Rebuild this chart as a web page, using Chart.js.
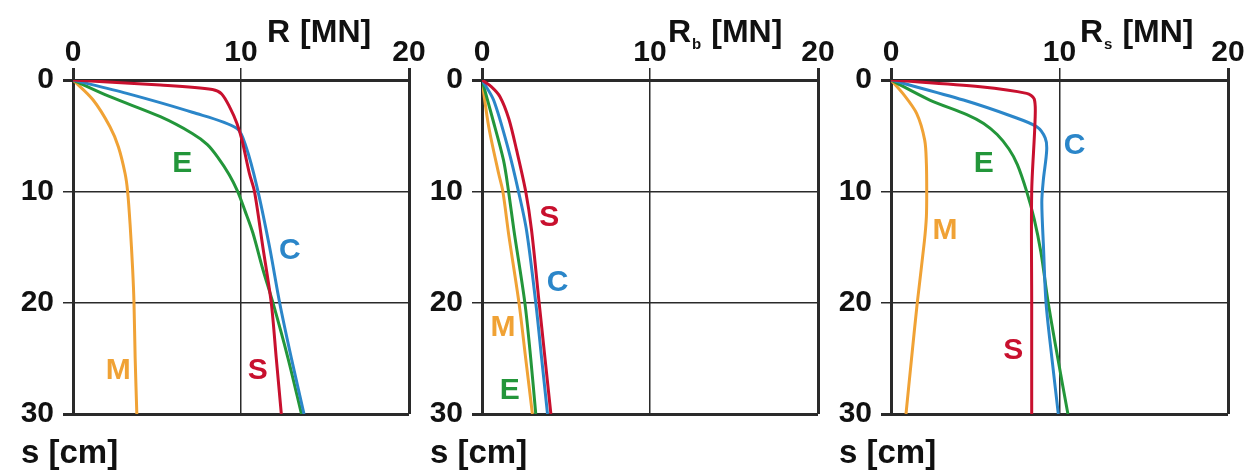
<!DOCTYPE html>
<html>
<head>
<meta charset="utf-8">
<script src="https://cdn.jsdelivr.net/npm/chart.js@4.4.0/dist/chart.umd.min.js"></script>
<style>
  body { margin: 0; background: #fff; }
  #wrap { position: relative; width: 1249px; height: 476px; overflow: hidden; }
  #wrap canvas { position: absolute; top: 0; }
</style>
</head>
<body>
<div id="wrap">
  <canvas id="c1" width="440" height="476" style="left:0"></canvas>
  <canvas id="c2" width="440" height="476" style="left:420px"></canvas>
  <canvas id="c3" width="419" height="476" style="left:830px"></canvas>
</div>
<script>
// Kurven: [R, s] Paare, R in MN, s in cm
const totalS = [[0,0],[5.2,0.45],[8.3,0.85],[8.85,1.25],[9.35,2.5],[9.76,3.9],[10.06,5.4],[10.5,8.4],[10.8,10],[11.3,15],[11.8,20],[12.1,25],[12.4,30]];
const totalC = [[0,0],[3.2,1.2],[7.1,2.9],[9.76,4.35],[10.3,6],[10.95,9.6],[11.7,15],[12.3,20],[13,25],[13.75,30]];
const totalE = [[0,0],[2.2,1.5],[5.2,3.3],[7.1,4.8],[8.0,5.8],[8.6,6.9],[9.3,8.5],[9.8,10],[10.25,11.8],[10.7,13.7],[11.3,17],[11.9,20],[12.8,25],[13.6,30]];
const totalM = [[0,0],[1.2,1.8],[2.2,4.2],[2.7,6],[3.1,8.4],[3.25,10],[3.4,13],[3.55,17],[3.63,20],[3.7,25],[3.8,30]];

const baseS = [[0,0],[0.55,0.6],[1.07,1.5],[1.6,3.5],[2.06,6.3],[2.6,10],[2.95,13.5],[3.4,20],[3.75,25],[4.1,30]];
const baseC = [[0,0],[0.69,1.8],[1.58,6.3],[2.17,10],[2.65,13.5],[3.2,20],[3.55,25],[3.9,30]];
const baseE = [[0,0],[0.6,3.3],[1.28,7.2],[1.58,10],[1.9,13.5],[2.55,20],[2.9,25],[3.2,30]];
const baseM = [[0,0],[0.4,4.2],[0.99,8.4],[1.24,10],[1.6,14],[2.2,20],[2.6,25],[3.0,30]];

const shaftS = [[0,0],[5.3,0.6],[8.05,1.2],[8.5,1.7],[8.55,3.6],[8.35,10],[8.35,20],[8.35,30]];
const shaftC = [[0,0],[4.3,1.8],[7.25,3.3],[8.65,4.2],[9.15,5.2],[9.24,6.3],[9.04,9],[8.95,11],[9.05,15],[9.2,20],[9.55,25],[9.93,30]];
const shaftE = [[0,0],[2.3,1.8],[4.5,3.1],[5.5,3.9],[6.3,4.9],[7.0,6.2],[7.5,7.6],[8.05,10],[8.5,12.5],[8.9,15.5],[9.33,20],[9.9,25],[10.5,30]];
const shaftM = [[0,0],[0.7,1.2],[1.52,3],[2.0,5.4],[2.1,7.5],[2.12,10],[2.1,12.3],[1.98,14.5],[1.56,20],[1.22,25],[0.89,30]];

// Achsen
const rTicks = [0, 10, 20];
const sTicks = [0, 10, 20, 30];
const forceUnit = '[MN]';
const depthTitle = 's [cm]';

const COLORS = { S: '#c8102e', C: '#2b86c9', E: '#23963a', M: '#f0a235' };
const FONT = '"Liberation Sans", Arial, sans-serif';

const annotate = {
  id: 'annotate',
  afterDraw(chart, args, opts) {
    const { ctx, chartArea: a, scales } = chart;
    ctx.save();
    ctx.font = 'bold 30px ' + FONT;
    ctx.textAlign = 'center';
    ctx.textBaseline = 'alphabetic';
    opts.letters.forEach(([t, x, y]) => {
      ctx.fillStyle = COLORS[t];
      ctx.fillText(t, scales.x.getPixelForValue(x), scales.y.getPixelForValue(y) + 11);
    });

    // R / R_b / R_s [MN]
    ctx.fillStyle = '#111';
    ctx.textAlign = 'left';
    const base = a.top - 38;
    let x0 = a.left + opts.titleX;
    ctx.font = 'bold 32px ' + FONT;
    ctx.fillText('R', x0, base);
    x0 += ctx.measureText('R').width;
    if (opts.sub) {
      ctx.font = 'bold 15px ' + FONT;
      ctx.fillText(opts.sub, x0 + 1, base + 7);
      x0 += ctx.measureText(opts.sub).width + 11;
    } else {
      x0 += 10;
    }
    ctx.font = 'bold 32px ' + FONT;
    ctx.fillText(forceUnit, x0, base);

    ctx.font = 'bold 33px ' + FONT;
    ctx.fillText(depthTitle, a.left - 52, a.bottom + 49);
    ctx.restore();
  }
};

function edgeWidth(max) {
  return c => (c.tick && (c.tick.value === 0 || c.tick.value === max)) ? 3 : 1.5;
}

function makePanel(id, yWidth, padRight, sub, titleX, curves, letters) {
  const tickFont = { family: FONT, size: 30, weight: 'bold', lineHeight: 1 };
  new Chart(document.getElementById(id), {
    type: 'scatter',
    data: {
      datasets: curves.map(([name, pts]) => ({
        label: name,
        data: pts.map(([x, y]) => ({ x, y })),
        showLine: true,
        borderColor: COLORS[name],
        backgroundColor: COLORS[name],
        borderWidth: 3,
        pointRadius: 0,
        tension: 0.3
      }))
    },
    options: {
      responsive: false,
      animation: false,
      layout: { padding: { left: 0, top: 0, right: padRight, bottom: 62 } },
      plugins: {
        legend: { display: false },
        tooltip: { enabled: false },
        annotate: { sub, titleX, letters }
      },
      scales: {
        x: {
          type: 'linear',
          position: 'top',
          min: rTicks[0],
          max: rTicks[rTicks.length - 1],
          afterBuildTicks: s => { s.ticks = rTicks.map(v => ({ value: v })); },
          ticks: { maxRotation: 0, autoSkip: false, font: tickFont, color: '#111', padding: 0 },
          grid: { color: '#2a2a2a', lineWidth: edgeWidth(20), tickLength: 12 },
          border: { display: true, color: '#2a2a2a', width: 3 },
          afterFit: s => { s.height = 80; }
        },
        y: {
          type: 'linear',
          reverse: true,
          min: sTicks[0],
          max: sTicks[sTicks.length - 1],
          afterBuildTicks: s => { s.ticks = sTicks.map(v => ({ value: v })); },
          ticks: { autoSkip: false, font: tickFont, color: '#111', padding: 9 },
          grid: { color: '#2a2a2a', lineWidth: edgeWidth(30), tickLength: 10 },
          border: { display: true, color: '#2a2a2a', width: 3 },
          afterFit: s => { s.width = yWidth; }
        }
      }
    },
    plugins: [annotate]
  });
}

makePanel('c1', 73, 31, '', 194,
  [['S', totalS], ['C', totalC], ['E', totalE], ['M', totalM]],
  [['E', 6.5, 7.3], ['C', 12.9, 15.1], ['M', 2.7, 25.9], ['S', 11.0, 25.9]]);

makePanel('c2', 62, 42, 'b', 186,
  [['S', baseS], ['C', baseC], ['E', baseE], ['M', baseM]],
  [['S', 4.0, 12.1], ['C', 4.5, 18], ['M', 1.25, 22], ['E', 1.65, 27.7]]);

makePanel('c3', 61, 21, 's', 189,
  [['S', shaftS], ['C', shaftC], ['E', shaftE], ['M', shaftM]],
  [['E', 5.5, 7.3], ['C', 10.9, 5.7], ['M', 3.2, 13.3], ['S', 7.25, 24.1]]);
</script>
</body>
</html>
